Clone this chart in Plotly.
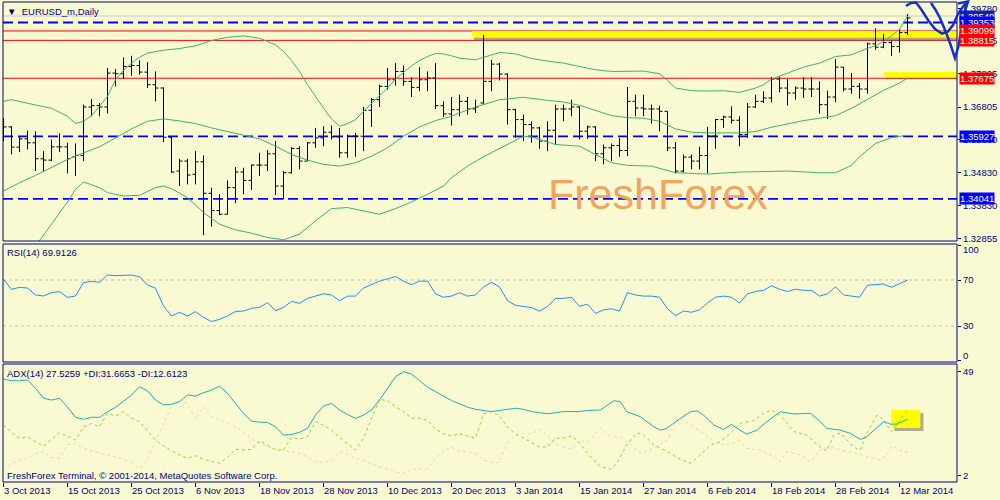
import plotly.graph_objects as go

# ---------------- data ----------------
date_labels = ["3 Oct 2013", "15 Oct 2013", "25 Oct 2013", "6 Nov 2013", "18 Nov 2013",
               "28 Nov 2013", "10 Dec 2013", "20 Dec 2013", "3 Jan 2014", "15 Jan 2014",
               "27 Jan 2014", "6 Feb 2014", "18 Feb 2014", "28 Feb 2014", "12 Mar 2014"]
date_bars = [0, 8, 16, 24, 32, 40, 48, 56, 64, 72, 80, 88, 96, 104, 112]

bar_open = [1.3603,1.3621,1.3560,1.3585,1.3573,1.3525,1.3521,1.3561,1.3561,1.3531,
            1.3535,1.3681,1.3685,1.3681,1.3783,1.3781,1.3803,1.3806,1.3786,1.3748,
            1.3738,1.3590,1.3488,1.3518,1.3478,1.3516,1.3421,1.3369,1.3358,1.3438,
            1.3485,1.3460,1.3506,1.3506,1.3540,1.3443,1.3483,1.3556,1.3518,1.3573,
            1.3588,1.3605,1.3591,1.3543,1.3593,1.3593,1.3671,1.3703,1.3743,1.3763,
            1.3788,1.3758,1.3740,1.3763,1.3768,1.3685,1.3660,1.3673,1.3698,1.3675,
            1.3693,1.3758,1.3810,1.3780,1.3673,1.3643,1.3628,1.3618,1.3578,1.3611,
            1.3675,1.3675,1.3681,1.3608,1.3621,1.3540,1.3558,1.3565,1.3550,1.3698,
            1.3678,1.3675,1.3675,1.3668,1.3558,1.3488,1.3530,1.3518,1.3535,1.3593,
            1.3643,1.3651,1.3641,1.3598,1.3681,1.3698,1.3708,1.3765,1.3738,1.3723,
            1.3738,1.3735,1.3735,1.3688,1.3711,1.3801,1.3735,1.3743,1.3735,1.3871,
            1.3861,1.3875,1.3863,1.3905]
bar_high = [1.3648,1.3623,1.3593,1.3610,1.3608,1.3548,1.3583,1.3601,1.3573,1.3571,
            1.3688,1.3705,1.3693,1.3798,1.3795,1.3830,1.3835,1.3821,1.3816,1.3788,
            1.3740,1.3591,1.3525,1.3525,1.3548,1.3535,1.3438,1.3418,1.3460,1.3500,
            1.3498,1.3508,1.3543,1.3551,1.3578,1.3488,1.3560,1.3563,1.3575,1.3618,
            1.3623,1.3625,1.3618,1.3598,1.3603,1.3681,1.3708,1.3748,1.3798,1.3813,
            1.3805,1.3771,1.3801,1.3788,1.3813,1.3698,1.3711,1.3718,1.3711,1.3703,
            1.3898,1.3823,1.3813,1.3782,1.3675,1.3658,1.3638,1.3621,1.3638,1.3688,
            1.3688,1.3703,1.3683,1.3625,1.3623,1.3568,1.3571,1.3588,1.3741,1.3718,
            1.3718,1.3688,1.3685,1.3668,1.3575,1.3538,1.3538,1.3561,1.3621,1.3645,
            1.3655,1.3683,1.3653,1.3693,1.3718,1.3728,1.3771,1.3773,1.3765,1.3743,
            1.3771,1.3771,1.3758,1.3730,1.3825,1.3801,1.3783,1.3753,1.3875,1.3918,
            1.3901,1.3881,1.3915,1.3961]
bar_low = [1.3578,1.3538,1.3545,1.3553,1.3488,1.3488,1.3518,1.3545,1.3481,1.3473,
           1.3518,1.3653,1.3653,1.3661,1.3743,1.3765,1.3775,1.3778,1.3738,1.3698,
           1.3575,1.3483,1.3443,1.3448,1.3448,1.3295,1.3321,1.3355,1.3358,1.3391,
           1.3418,1.3431,1.3473,1.3488,1.3416,1.3403,1.3480,1.3493,1.3518,1.3558,
           1.3563,1.3583,1.3528,1.3528,1.3531,1.3548,1.3621,1.3681,1.3733,1.3745,
           1.3745,1.3711,1.3728,1.3728,1.3675,1.3651,1.3625,1.3653,1.3658,1.3663,
           1.3691,1.3728,1.3761,1.3628,1.3588,1.3578,1.3573,1.3555,1.3548,1.3568,
           1.3638,1.3653,1.3583,1.3585,1.3518,1.3508,1.3518,1.3531,1.3533,1.3653,
           1.3653,1.3631,1.3608,1.3548,1.3481,1.3483,1.3493,1.3493,1.3481,1.3555,
           1.3618,1.3631,1.3563,1.3588,1.3678,1.3693,1.3695,1.3725,1.3685,1.3703,
           1.3708,1.3711,1.3661,1.3645,1.3695,1.3728,1.3721,1.3706,1.3721,1.3853,
           1.3858,1.3835,1.3845,1.3898]
bar_close = [1.3621,1.3560,1.3585,1.3573,1.3525,1.3521,1.3561,1.3561,1.3525,1.3535,
             1.3681,1.3685,1.3681,1.3783,1.3781,1.3803,1.3806,1.3786,1.3748,1.3738,
             1.3590,1.3485,1.3518,1.3476,1.3516,1.3421,1.3369,1.3358,1.3438,1.3485,
             1.3460,1.3506,1.3506,1.3540,1.3443,1.3483,1.3556,1.3518,1.3573,1.3588,
             1.3605,1.3591,1.3543,1.3593,1.3593,1.3671,1.3703,1.3743,1.3763,1.3788,
             1.3758,1.3740,1.3763,1.3768,1.3685,1.3660,1.3673,1.3698,1.3675,1.3681,
             1.3758,1.3810,1.3780,1.3673,1.3643,1.3628,1.3618,1.3578,1.3611,1.3675,
             1.3675,1.3681,1.3608,1.3621,1.3540,1.3558,1.3565,1.3550,1.3698,1.3678,
             1.3675,1.3675,1.3668,1.3558,1.3488,1.3530,1.3518,1.3535,1.3593,1.3643,
             1.3651,1.3641,1.3598,1.3681,1.3698,1.3708,1.3765,1.3738,1.3723,1.3738,
             1.3735,1.3735,1.3688,1.3711,1.3801,1.3735,1.3743,1.3735,1.3871,1.3861,
             1.3875,1.3863,1.3905,1.3949]
bar_index = list(range(len(bar_close)))

bb_upper_idx = [0,1,4,6,8,9,10,11,12,13,14,15,16,17,18,20,22,24,26,28,30,32,34,35,36,37,38,39,40,41,
                42,43,44,45,46,47,48,49,50,51,52,53,54,55,56,57,59,60,62,64,66,68,70,72,74,76,78,80,82,83,
                84,86,88,90,92,94,95,96,98,100,102,104,106,107,108,109,110,111,112,113]
bb_upper = [1.3698,1.3703,1.3687,1.3677,1.3653,1.3631,1.3638,1.3655,1.3683,1.3713,
            1.3763,1.3791,1.3813,1.3831,1.3843,1.3852,1.3857,1.3865,1.3881,1.3891,
            1.3895,1.3888,1.3868,1.3848,1.3821,1.3788,1.3748,1.3711,1.3678,1.3645,
            1.3623,1.3631,1.3643,1.3668,1.3691,1.3715,1.3738,1.3765,1.3785,1.3805,
            1.3821,1.3833,1.3842,1.3841,1.3835,1.3828,1.3823,1.3831,1.3845,1.3841,
            1.3827,1.3819,1.3813,1.3803,1.3793,1.3788,1.3788,1.3789,1.3781,1.3761,
            1.3738,1.3730,1.3729,1.3730,1.3725,1.3738,1.3748,1.3765,1.3783,1.3801,
            1.3813,1.3833,1.3838,1.3848,1.3858,1.3865,1.3878,1.3895,1.3915,1.3955]
bb_mid_idx = [0,2,4,6,8,10,12,14,16,18,20,22,24,26,28,30,32,34,36,38,40,42,44,46,48,50,52,54,56,57,
              59,62,65,68,70,72,74,76,78,80,82,84,86,88,92,94,96,98,100,102,104,106,108,110,112,113]
bb_mid = [1.3428,1.3453,1.3475,1.3498,1.3523,1.3543,1.3561,1.3588,1.3615,1.3638,
          1.3645,1.3639,1.3631,1.3618,1.3607,1.3598,1.3585,1.3563,1.3538,1.3521,
          1.3508,1.3503,1.3513,1.3533,1.3558,1.3593,1.3621,1.3640,1.3653,1.3663,
          1.3681,1.3703,1.3710,1.3701,1.3696,1.3686,1.3671,1.3655,1.3649,1.3647,
          1.3638,1.3615,1.3605,1.3603,1.3603,1.3607,1.3620,1.3631,1.3640,1.3647,
          1.3655,1.3677,1.3703,1.3731,1.3753,1.3768]
bb_lower_idx = [3,4,5,6,7,8,9,10,11,12,13,15,17,19,20,21,23,25,27,29,31,33,35,37,39,41,43,45,47,49,
                51,53,55,56,57,58,60,61,62,64,65,66,67,69,72,74,76,78,81,84,88,92,98,102,104,106,107,
                109,111,113]
bb_lower = [1.3223,1.3263,1.3295,1.3328,1.3363,1.3395,1.3433,1.3455,1.3447,1.3438,
            1.3423,1.3413,1.3415,1.3438,1.3443,1.3435,1.3408,1.3363,1.3328,1.3311,
            1.3301,1.3288,1.3281,1.3298,1.3338,1.3375,1.3378,1.3368,1.3358,1.3375,
            1.3395,1.3418,1.3443,1.3468,1.3485,1.3503,1.3531,1.3543,1.3555,1.3581,
            1.3593,1.3591,1.3583,1.3568,1.3563,1.3538,1.3513,1.3505,1.3503,1.3483,
            1.3479,1.3485,1.3488,1.3483,1.3483,1.3505,1.3531,1.3571,1.3589,1.3596]

rsi = [70.6,61.9,63.6,63.0,57.0,56.1,59.0,59.9,54.9,56.1,
       67.7,68.8,68.0,74.3,73.8,74.3,74.3,72.9,65.7,62.8,
       47.4,38.7,41.9,38.7,42.5,37.5,33.8,35.8,38.7,42.7,
       43.0,45.4,46.2,50.3,43.3,46.2,51.4,49.7,54.0,56.0,
       58.0,57.0,52.0,56.0,56.0,63.0,66.0,69.0,71.0,73.0,
       69.0,66.0,69.0,69.0,58.0,55.0,56.0,59.0,56.0,57.0,
       64.0,68.0,64.0,52.0,48.0,47.0,46.0,43.0,47.0,54.0,
       54.0,55.0,47.0,49.0,41.0,44.0,45.0,43.0,59.0,57.0,
       56.0,56.0,55.0,45.0,39.0,43.0,42.0,44.0,50.0,55.0,
       56.0,55.0,50.0,58.0,60.0,61.0,65.0,62.0,60.0,62.0,
       61.0,61.0,56.0,58.0,64.0,57.0,56.0,55.0,65.5,66.0,
       66.5,63.6,67.1,69.9126]

adx_idx = [0,1,2,3,4,5,6,7,8,9,10,11,12,13,14,15,16,17,18,19,20,21,22,23,24,25,26,27,28,29,
           30,31,32,33,34,35,36,37,38,39,40,41,42,43,44,45,46,47,48,49,50,51,52,53,54,55,56,57,58,59,
           60,61,62,63,64,65,66,67,68,69,70,71,72,73,74.6,76.3,77.1,77.9,79.6,81.3,82.1,82.9,84.6,85.9,
           86.7,87.5,88.8,90,91,91.7,92.9,94.2,95.4,97.1,98.8,100.9,102.1,102.9,104.6,105.9,107.1,107.9,
           108.8,110,110.9,111.7,113]
adx_val = [45.6,45.0,44.9,45.3,41.5,37.0,36.2,37.0,33.0,28.4,27.5,28.4,28.4,30.9,32.9,35.5,38.5,42.2,40.4,36.2,
           34.0,34.3,35.5,38.5,38.0,39.5,40.7,42.5,39.2,34.7,30.2,26.7,26.2,26.1,24.1,20.4,20.6,21.6,23.4,29.4,
           33.5,34.7,31.7,29.7,27.9,29.4,31.7,36.2,41.5,46.8,49.0,48.0,45.0,42.0,40.0,38.0,36.0,34.5,33.0,32.0,
           31.5,31.0,31.5,32.0,32.5,32.0,31.0,30.5,30.0,30.5,31.0,31.0,31.0,31.5,31.7,35.9,35.5,30.9,28.7,24.1,
           22.6,23.4,27.9,30.9,31.3,29.4,24.9,22.9,25.2,23.4,20.8,22.6,26.4,30.9,29.9,30.2,26.4,23.4,22.6,21.1,
           18.4,19.6,22.6,26.4,25.3,25.3,27.5259]
pdi_idx = [0,1,2,3,4,5,6,7,8,9,10,11,12,13,14,15,16,17,18,19,20,21,22,23,24,25,26,27,28,29,
           30,31,32,33,34,35,36,37,38,39,40,41,42,43,44,45,46,47,48,49,50,51,52,53,54,55,56,57,58,59,
           60,61,62,63,64,65,66,67,68,69,70,71,72,73,74.6,75.9,76.7,77.9,79.2,80,81.3,83,84.6,85.9,
           87.1,88.4,89.6,90.9,92.1,93.8,95,96,97.1,98.8,100.4,102.1,102.9,103.8,104.6,106.3,107.1,107.9,
           109.2,110,111,112.1,113]
pdi_val = [25.0,21.5,18.9,19.6,17.4,15.4,18.4,21.5,19.9,18.1,24.1,25.6,24.1,30.2,29.0,30.9,28.0,26.4,22.3,18.1,
           15.4,13.3,11.4,9.9,11.1,9.4,8.4,7.6,10.3,13.9,13.6,13.9,17.8,15.9,13.6,13.6,19.3,18.6,19.6,26.4,
           24.8,22.6,19.3,16.3,13.6,18.9,27.9,36.5,35.9,33.2,31.0,28.0,28.0,27.0,23.0,21.0,20.0,21.0,20.0,19.0,
           30.0,31.0,29.0,24.0,21.0,19.0,17.0,15.0,15.0,19.0,19.0,20.0,17.0,12.0,6.1,4.9,7.6,15.9,21.4,20.4,
           15.9,12.8,9.4,7.6,11.4,15.9,17.4,21.2,25.7,26.9,30.2,31.7,29.4,21.9,20.4,14.8,13.3,20.4,21.2,14.8,
           13.6,21.2,29.4,27.2,21.9,27.2,31.6653]
mdi_idx = [0,1,2,3,4,5,6,7,8,9,10,11,12,13,14,15,16,17,18,19,20,21,22,23,24,25,26,27,28,29,
           30,31,32,33,34,35,36,37,38,39,40,41,42,43,44,45,46,47,48,49,50,51,52,53,54,55,56,57,58,59,
           60,61,62,63,64,65,66,67,68,69,70,71,72,73,74.6,75.9,77.1,78.4,79.6,81.3,83,84.2,85,86.3,
           88,89.6,91.3,91.9,92.9,94.6,96.3,97.1,97.9,99.6,100.9,102.1,103.3,104.6,106.3,107.9,109.6,110.4,
           111,112.1,113]
mdi_val = [4.6,7.6,8.8,9.9,11.8,12.8,10.3,9.9,15.9,16.6,14.4,13.3,12.1,11.4,10.6,9.4,7.9,5.2,9.9,17.4,
           25.7,33.5,35.5,34.7,27.5,33.2,28.7,27.2,25.7,24.1,21.9,18.7,16.6,15.1,14.2,13.6,13.0,12.1,10.6,8.3,
           7.9,9.1,12.7,11.8,9.9,8.8,7.3,6.1,4.9,3.7,3.0,5.0,5.0,5.0,10.0,13.0,15.0,13.0,13.0,12.0,
           9.0,8.0,8.0,17.0,20.0,21.0,21.0,23.0,20.0,16.0,15.0,14.0,18.0,17.0,23.4,19.6,19.6,15.9,12.1,14.4,
           18.1,27.9,27.2,24.1,19.6,15.9,16.6,18.1,14.4,13.6,10.6,8.3,12.8,11.4,8.3,13.6,15.1,13.6,12.4,10.6,
           9.1,11.4,15.4,13.6,12.6123]

price_ticks = [1.32855, 1.33830, 1.34830, 1.35830, 1.36805, 1.37805, 1.38805, 1.39780]
blue_levels = [1.39353, 1.35927, 1.34041]
red_levels = [1.39099, 1.38815, 1.37675]
bid_level = 1.39549

# ---------------- geometry ----------------
W, H = 1000, 500
ML, MR, MT, MB = 3, 43, 2, 18
PW, PH = W - ML - MR, H - MT - MB
NAVY = "#000080"
BG = "#FAFAD2"
FONT = "Liberation Sans, Arial, sans-serif"
FS = 9.5


def py2paper(py):
    return (H - MB - py) / PH


def px2paper(px):
    return (px - ML) / PW


main_dom = [py2paper(241), py2paper(2)]
rsi_dom = [py2paper(362), py2paper(244)]
adx_dom = [py2paper(482), py2paper(364)]
x_range = [-0.0625, -0.0625 + PW / 8.0]

fig = go.Figure()

band_color = "#3CB371"
for xi, yv in [(bb_upper_idx, bb_upper), (bb_mid_idx, bb_mid), (bb_lower_idx, bb_lower)]:
    fig.add_trace(go.Scatter(x=xi, y=yv, mode="lines", line=dict(color=band_color, width=1),
                             yaxis="y", hoverinfo="skip", showlegend=False))

fig.add_trace(go.Ohlc(x=bar_index, open=bar_open, high=bar_high, low=bar_low, close=bar_close,
                      increasing=dict(line=dict(color="#000000", width=1)),
                      decreasing=dict(line=dict(color="#000000", width=1)),
                      tickwidth=0.375, yaxis="y", hoverinfo="skip", showlegend=False))

fig.add_trace(go.Scatter(x=bar_index, y=rsi, mode="lines", line=dict(color="#1E90FF", width=1),
                         yaxis="y2", hoverinfo="skip", showlegend=False))

fig.add_trace(go.Scatter(x=mdi_idx, y=mdi_val, mode="lines",
                         line=dict(color="#F2D2B4", width=1, dash="3px,3px"),
                         yaxis="y3", hoverinfo="skip", showlegend=False))
fig.add_trace(go.Scatter(x=pdi_idx, y=pdi_val, mode="lines",
                         line=dict(color="#9ACD32", width=1, dash="3px,3px"),
                         yaxis="y3", hoverinfo="skip", showlegend=False))
fig.add_trace(go.Scatter(x=adx_idx, y=adx_val, mode="lines", line=dict(color="#20B2AA", width=1),
                         yaxis="y3", hoverinfo="skip", showlegend=False))

shapes = []
# yellow highlight rectangles with shadows (drawn behind everything)
shapes.append(dict(type="rect", xref="x", yref="y", x0=58.8, x1=x_range[1] + 1, y0=1.38815, y1=1.39040,
                   fillcolor="rgba(110,95,70,0.55)", line=dict(width=0), layer="below"))
shapes.append(dict(type="rect", xref="x", yref="y", x0=58.6, x1=x_range[1] + 1, y0=1.38897, y1=1.39098,
                   fillcolor="#FFFF00", line=dict(width=0), layer="below"))
shapes.append(dict(type="rect", xref="x", yref="y", x0=110.3, x1=x_range[1] + 1, y0=1.37640, y1=1.37800,
                   fillcolor="rgba(110,95,70,0.45)", line=dict(width=0), layer="below"))
shapes.append(dict(type="rect", xref="x", yref="y", x0=110.1, x1=x_range[1] + 1, y0=1.37698, y1=1.37872,
                   fillcolor="#FFFF00", line=dict(width=0), layer="below"))
shapes.append(dict(type="rect", xref="x", yref="y3", x0=111.35, x1=115.0, y0=22.2, y1=30.3,
                   fillcolor="rgba(90,80,60,0.45)", line=dict(width=0), layer="below"))
shapes.append(dict(type="rect", xref="x", yref="y3", x0=110.95, x1=114.6, y0=23.6, y1=31.7,
                   fillcolor="#FFFF00", line=dict(width=0), layer="below"))

# horizontal levels
shapes.append(dict(type="line", xref="paper", yref="y", x0=0, x1=1, y0=bid_level, y1=bid_level,
                   line=dict(color="#C8C8C8", width=1), layer="below"))
for lv in blue_levels:
    shapes.append(dict(type="line", xref="paper", yref="y", x0=0, x1=1, y0=lv, y1=lv,
                       line=dict(color="#0000FF", width=1.8, dash="10px,5px"), layer="below"))
for lv in red_levels:
    shapes.append(dict(type="line", xref="paper", yref="y", x0=0, x1=1, y0=lv, y1=lv,
                       line=dict(color="#FF0000", width=1), layer="below"))
for lv in [70, 30]:
    shapes.append(dict(type="line", xref="paper", yref="y2", x0=0, x1=1, y0=lv, y1=lv,
                       line=dict(color="#C0C0C0", width=1, dash="3px,3px"), layer="below"))

# panel borders
for dom in (main_dom, rsi_dom, adx_dom):
    shapes.append(dict(type="rect", xref="paper", yref="paper", x0=0, x1=1, y0=dom[0], y1=dom[1],
                       line=dict(color=NAVY, width=1), fillcolor="rgba(0,0,0,0)", layer="above"))

# hand drawn forecast strokes (pixel positions of the drawing)
stroke_a = [(906, 6), (911, 3), (916, 2.5), (921, 9), (928, 20), (935, 29), (942, 33.5), (948, 31.5),
            (953, 25), (958, 14), (963, 6.5), (968, 1.5)]
stroke_b = [(931, 3), (935, 9), (940, 18), (945, 30), (950, 43), (955, 58), (958.5, 46), (961.5, 28),
            (965, 11), (967, 4)]
arrow_head = [(958, 3.5), (968, 1.5), (965, 10)]
for stroke in (stroke_a, stroke_b, arrow_head):
    path = "M " + " L ".join(f"{px2paper(x):.5f},{py2paper(y):.5f}" for x, y in stroke)
    shapes.append(dict(type="path", xref="paper", yref="paper", path=path,
                       line=dict(color="#1530D0", width=2.5), layer="above"))

annotations = []


def box_label(value, text, color, yref="y"):
    annotations.append(dict(xref="paper", yref=yref, x=1 + 2 / PW, y=value, xanchor="left",
                            yanchor="middle", text=text, showarrow=False, bgcolor=color,
                            borderpad=0, font=dict(family=FONT, size=FS, color="#FFFFFF")))


box_label(bid_level, "1.39549", "#1020B0")
box_label(1.39353, "1.39353", "#0000FF")
box_label(1.39099, "1.39099", "#FF0000")
box_label(1.38815, "1.38815", "#FF0000")
box_label(1.37675, "1.37675", "#FF0000")
box_label(1.35927, "1.35927", "#0000FF")
box_label(1.34041, "1.34041", "#0000FF")

for txt, ypx in [("100", 250), ("0", 355.7)]:
    annotations.append(dict(xref="paper", yref="paper", x=1 + 4 / PW, y=py2paper(ypx), xanchor="left",
                            yanchor="middle", text=txt, showarrow=False,
                            font=dict(family=FONT, size=FS, color=NAVY)))

for txt, ypx in [("\u25BC  EURUSD_m,Daily", 11), ("RSI(14) 69.9126", 252.7),
                 ("ADX(14) 27.5259 +DI:31.6653 -DI:12.6123", 373),
                 ("FreshForex Terminal, \u00A9 2001-2014, MetaQuotes Software Corp.", 475)]:
    annotations.append(dict(xref="paper", yref="paper", x=px2paper(5), y=py2paper(ypx), xanchor="left",
                            yanchor="middle", text=txt, showarrow=False,
                            font=dict(family=FONT, size=FS, color=NAVY)))

annotations.append(dict(xref="paper", yref="paper", x=px2paper(546), y=py2paper(194), xanchor="left",
                        yanchor="middle", text="FreshForex", showarrow=False,
                        font=dict(family=FONT, size=43, color="#F4A460")))

axis_font = dict(family=FONT, size=FS, color=NAVY)
fig.update_layout(
    width=W, height=H,
    margin=dict(l=ML, r=MR, t=MT, b=MB, pad=0),
    paper_bgcolor=BG, plot_bgcolor=BG,
    showlegend=False,
    xaxis=dict(domain=[0, 1], range=x_range, anchor="y3", showgrid=False, zeroline=False,
               showline=False, tickmode="array", tickvals=date_bars, ticktext=date_labels,
               ticks="outside", ticklen=4, tickcolor=NAVY, ticklabelposition="outside right",
               tickfont=axis_font, rangeslider=dict(visible=False), fixedrange=True),
    yaxis=dict(domain=main_dom, range=[1.32774, 1.39971], side="right", anchor="x", showgrid=False,
               zeroline=False, tickmode="array", tickvals=price_ticks,
               ticktext=[f"{v:.5f}" for v in price_ticks], ticks="outside", ticklen=3,
               tickcolor=NAVY, tickfont=axis_font, fixedrange=True),
    yaxis2=dict(domain=rsi_dom, range=[-1.3, 101.3], side="right", anchor="x", showgrid=False,
                zeroline=False, tickmode="array", tickvals=[0, 30, 70, 100],
                ticktext=["", "30", "70", ""], ticks="outside", ticklen=3, tickcolor=NAVY,
                tickfont=axis_font, fixedrange=True),
    yaxis3=dict(domain=adx_dom, range=[-0.85, 52.5], side="right", anchor="x", showgrid=False,
                zeroline=False, tickmode="array", tickvals=[2, 49], ticktext=["2", "49"],
                ticks="outside", ticklen=3, tickcolor=NAVY, tickfont=axis_font, fixedrange=True),
    shapes=shapes,
    annotations=annotations,
)

fig.write_html("out.html", config={"displayModeBar": False},
               post_script="document.body.style.margin='0';document.body.style.overflow='hidden';")
